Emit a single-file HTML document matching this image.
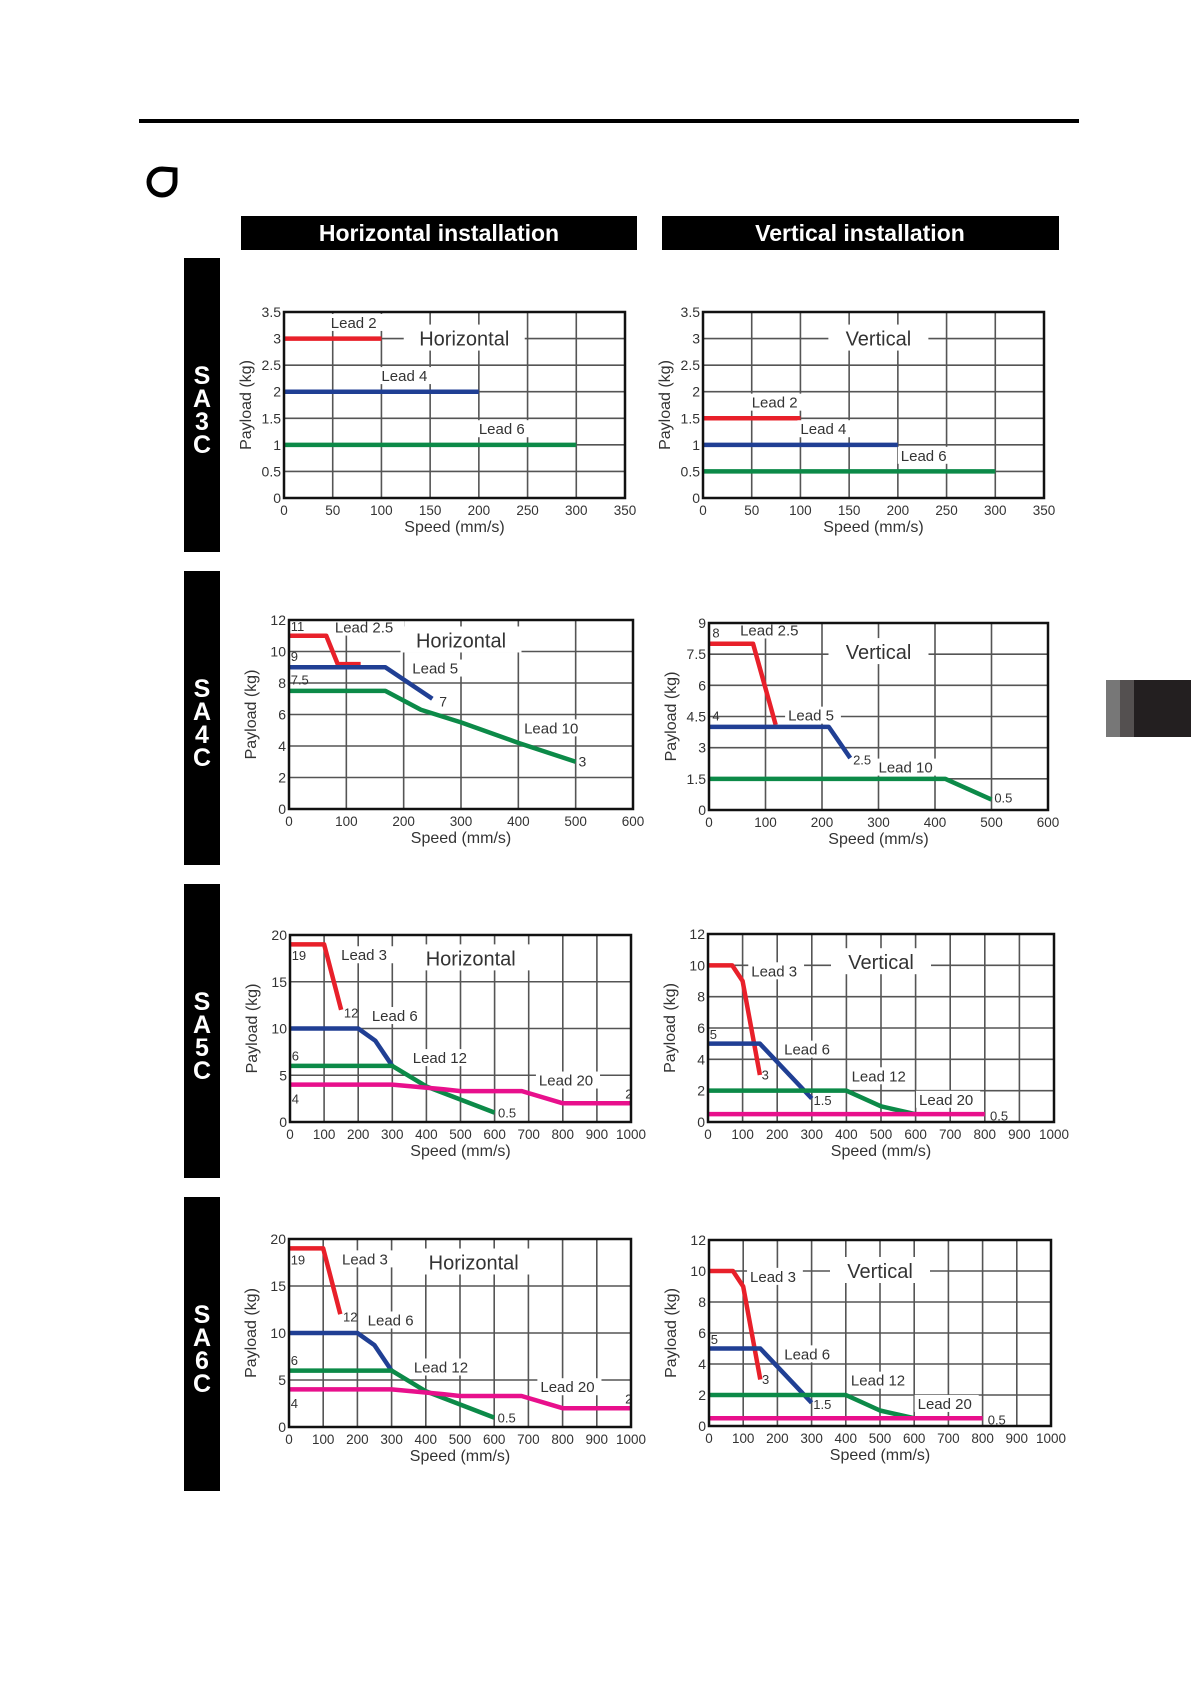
<!DOCTYPE html>
<html><head><meta charset="utf-8"><style>
html,body{margin:0;padding:0;background:#fff}
body{width:1191px;height:1684px;position:relative;overflow:hidden}
svg text{font-family:"Liberation Sans",sans-serif}
</style></head><body>
<svg id="s" width="1191" height="1684" xmlns="http://www.w3.org/2000/svg">
<rect x="139" y="119" width="940" height="4" fill="#000"/>
<path d="M175 170 L175 182 A13 13 0 1 1 162 169 Z" fill="none" stroke="#000" stroke-width="5"/>
<rect x="241" y="216" width="396" height="34" fill="#000"/>
<text x="439" y="241" font-size="23" font-weight="bold" fill="#fff" text-anchor="middle">Horizontal installation</text>
<rect x="662" y="216" width="397" height="34" fill="#000"/>
<text x="860" y="241" font-size="23" font-weight="bold" fill="#fff" text-anchor="middle">Vertical installation</text>
<rect x="1106" y="680" width="14" height="57" fill="#777"/>
<rect x="1120" y="680" width="14" height="57" fill="#545050"/>
<rect x="1134" y="680" width="57" height="57" fill="#231f20"/>
</svg>
<script>
var s=document.getElementById('s'),h='';
function T(x,y,t,sz,anc,fill,extra){return '<text x="'+x+'" y="'+y+'" font-size="'+sz+'" fill="'+(fill||'#222')+'" text-anchor="'+(anc||'start')+'" '+(extra||'')+'>'+t+'</text>';}
[['SA3C',258],['SA4C',571],['SA5C',884],['SA6C',1197]].forEach(function(b){
 h+='<rect x="184" y="'+b[1]+'" width="36" height="294" fill="#000"/>';
 for(var i=0;i<4;i++)h+=T(202,b[1]+126+i*23,b[0][i],25,'middle','#fff','font-weight="bold"');
});
var C={r:'#e8202a',b:'#203f94',g:'#0c8a48',m:'#e8108c'};
function chart(c){
 var X=function(v){return c.x0+(c.x1-c.x0)*v/c.xm},Y=function(v){return c.y1-(c.y1-c.y0)*v/c.ym};
 var g='';
 for(var v=c.xs;v<c.xm-1e-9;v+=c.xs)g+='<line x1="'+X(v)+'" y1="'+c.y0+'" x2="'+X(v)+'" y2="'+c.y1+'" stroke="#555" stroke-width="1.6"/>';
 for(var v=c.ys;v<c.ym-1e-9;v+=c.ys)g+='<line x1="'+c.x0+'" y1="'+Y(v)+'" x2="'+c.x1+'" y2="'+Y(v)+'" stroke="#555" stroke-width="1.6"/>';
 var tw=c.tt.length*10.5+16;
 g+='<rect x="'+(X(c.tx)-tw/2)+'" y="'+(Y(c.ty)-14)+'" width="'+tw+'" height="26" fill="#fff"/>';
 g+=T(X(c.tx),Y(c.ty)+7,c.tt,20,'middle','#333');
 c.ser.forEach(function(q){var p=q[1].map(function(a){return X(a[0])+','+Y(a[1])}).join(' ');
  g+='<polyline points="'+p+'" fill="none" stroke="'+C[q[0]]+'" stroke-width="4.5" stroke-linejoin="round"/>';});
 c.lab.forEach(function(l){var sz=l[3]||15;
  if(sz==15){g+='<rect x="'+(X(l[0])-3)+'" y="'+(Y(l[1])-14)+'" width="'+(l[2].length*8.3+6)+'" height="17" fill="#fff"/>';}
  g+=T(X(l[0]),Y(l[1]),l[2],sz,'start','#333');});
 g+='<rect x="'+c.x0+'" y="'+c.y0+'" width="'+(c.x1-c.x0)+'" height="'+(c.y1-c.y0)+'" fill="none" stroke="#111" stroke-width="2.5"/>';
 for(var v=0;v<=c.xm+1e-9;v+=c.xs)g+=T(X(v),c.y1+17,+v.toFixed(2),14,'middle','#333','textLength="'+(String(+v.toFixed(2)).length*7.5)+'" lengthAdjust="spacingAndGlyphs"');
 for(var v=0;v<=c.ym+1e-9;v+=c.ys)g+=T(c.x0-3,Y(v)+5,+v.toFixed(2),14,'end','#333');
 g+=T((c.x0+c.x1)/2,c.y1+34,'Speed (mm/s)',16,'middle','#333');
 var ax=c.x0-(c.ym>=10||c.ys%1?33:29),ay=(c.y0+c.y1)/2;
 g+='<text x="'+ax+'" y="'+ay+'" font-size="16" fill="#333" text-anchor="middle" transform="rotate(-90 '+ax+' '+ay+')">Payload (kg)</text>';
 h+=g;
}
chart({x0:284,x1:625,y0:312,y1:498,xm:350,xs:50,ym:3.5,ys:0.5,tt:'Horizontal',tx:185,ty:3,
 ser:[['r',[[0,3],[100,3]]],['b',[[0,2],[200,2]]],['g',[[0,1],[300,1]]]],
 lab:[[48,3.2,'Lead 2'],[100,2.2,'Lead 4'],[200,1.2,'Lead 6']]});
chart({x0:703,x1:1044,y0:312,y1:498,xm:350,xs:50,ym:3.5,ys:0.5,tt:'Vertical',tx:180,ty:3,
 ser:[['r',[[0,1.5],[100,1.5]]],['b',[[0,1],[200,1]]],['g',[[0,0.5],[300,0.5]]]],
 lab:[[50,1.7,'Lead 2'],[100,1.2,'Lead 4'],[203,0.7,'Lead 6']]});
chart({x0:289,x1:633,y0:620,y1:809,xm:600,xs:100,ym:12,ys:2,tt:'Horizontal',tx:300,ty:10.7,
 ser:[['r',[[0,11],[65,11],[85,9.2],[125,9.2]]],['b',[[0,9],[168,9],[250,7]]],['g',[[0,7.5],[168,7.5],[230,6.3],[300,5.5],[400,4.2],[500,3]]]],
 lab:[[80,11.2,'Lead 2.5'],[215,8.6,'Lead 5'],[410,4.8,'Lead 10'],[3,11.3,'11',13],[3,9.4,'9',13],[3,7.9,'7.5',13],[262,6.5,'7',14],[505,2.7,'3',14]]});
chart({x0:709,x1:1048,y0:623,y1:810,xm:600,xs:100,ym:9,ys:1.5,tt:'Vertical',tx:300,ty:7.6,
 ser:[['r',[[0,8],[78,8],[118,4.1]]],['b',[[0,4],[212,4],[250,2.5]]],['g',[[0,1.5],[418,1.5],[500,0.5]]]],
 lab:[[55,8.4,'Lead 2.5'],[140,4.3,'Lead 5'],[300,1.8,'Lead 10'],[6,8.3,'8',13],[6,4.3,'4',13],[255,2.2,'2.5',13],[505,0.35,'0.5',13]]});
chart({x0:290,x1:631,y0:935,y1:1122,xm:1000,xs:100,ym:20,ys:5,tt:'Horizontal',tx:530,ty:17.5,
 ser:[['r',[[0,19],[100,19],[150,12]]],['b',[[0,10],[200,10],[250,8.7],[300,6]]],['g',[[0,6],[300,6],[400,3.8],[600,1]]],['m',[[0,4],[300,4],[450,3.5],[500,3.3],[680,3.3],[800,2],[1000,2]]]],
 lab:[[150,17.3,'Lead 3'],[240,10.8,'Lead 6'],[360,6.3,'Lead 12'],[730,3.9,'Lead 20'],[5,17.3,'19',13],[158,11.2,'12',13],[5,6.6,'6',13],[5,2,'4',13],[983,2.5,'2',13],[610,0.5,'0.5',13]]});
chart({x0:708,x1:1054,y0:934,y1:1122,xm:1000,xs:100,ym:12,ys:2,tt:'Vertical',tx:500,ty:10.2,
 ser:[['r',[[0,10],[70,10],[100,9],[150,3]]],['b',[[0,5],[150,5],[300,1.5]]],['g',[[0,2],[400,2],[500,1],[600,0.5]]],['m',[[0,0.5],[800,0.5]]]],
 lab:[[125,9.3,'Lead 3'],[220,4.3,'Lead 6'],[415,2.6,'Lead 12'],[610,1.1,'Lead 20'],[5,5.3,'5',13],[155,2.7,'3',13],[305,1.1,'1.5',13],[815,0.1,'0.5',13]]});
chart({x0:289,x1:631,y0:1239,y1:1427,xm:1000,xs:100,ym:20,ys:5,tt:'Horizontal',tx:540,ty:17.5,
 ser:[['r',[[0,19],[100,19],[150,12]]],['b',[[0,10],[200,10],[250,8.7],[300,6]]],['g',[[0,6],[300,6],[400,3.8],[600,1]]],['m',[[0,4],[300,4],[450,3.5],[500,3.3],[680,3.3],[800,2],[1000,2]]]],
 lab:[[155,17.3,'Lead 3'],[230,10.8,'Lead 6'],[365,5.8,'Lead 12'],[735,3.7,'Lead 20'],[5,17.3,'19',13],[158,11.2,'12',13],[5,6.6,'6',13],[5,2,'4',13],[983,2.5,'2',13],[610,0.5,'0.5',13]]});
chart({x0:709,x1:1051,y0:1240,y1:1426,xm:1000,xs:100,ym:12,ys:2,tt:'Vertical',tx:500,ty:10,
 ser:[['r',[[0,10],[70,10],[100,9],[150,3]]],['b',[[0,5],[150,5],[300,1.5]]],['g',[[0,2],[400,2],[500,1],[600,0.5]]],['m',[[0,0.5],[800,0.5]]]],
 lab:[[120,9.3,'Lead 3'],[220,4.3,'Lead 6'],[415,2.6,'Lead 12'],[610,1.1,'Lead 20'],[5,5.3,'5',13],[155,2.7,'3',13],[305,1.1,'1.5',13],[815,0.1,'0.5',13]]});
s.insertAdjacentHTML('beforeend',h);
</script>
</body></html>
